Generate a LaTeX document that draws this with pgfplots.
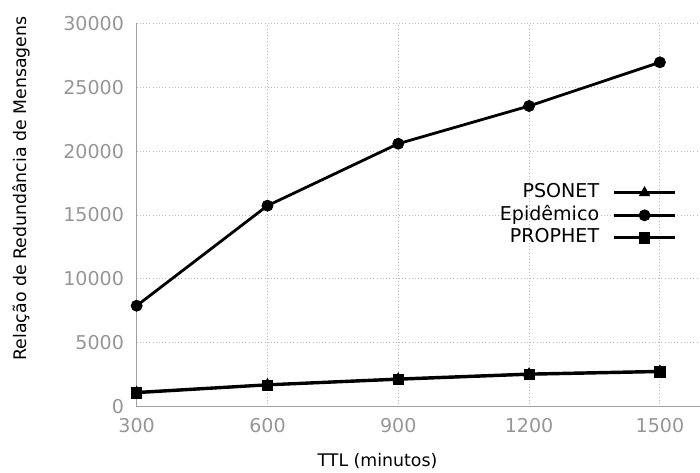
\documentclass[border=0pt]{standalone}
\usepackage{fontspec}
\setmainfont{DejaVu Sans}
\usepackage{pgfplots}
\pgfplotsset{compat=1.18}

\definecolor{ticktext}{RGB}{150,150,150}
\definecolor{axisgray}{RGB}{160,160,160}
\definecolor{gridgray}{RGB}{185,185,185}

\begin{document}
\begin{tikzpicture}
\begin{axis}[
    scale only axis,
    width=422.5pt,
    height=287.5pt,
    xmin=300, xmax=1592,
    ymin=0, ymax=30000,
    xtick={300,600,900,1200,1500},
    ytick={0,5000,10000,15000,20000,25000,30000},
    scaled ticks=false,
    /pgf/number format/set thousands separator={},
    /pgf/number format/assume math mode=true,
    axis lines=left,
    axis line style={-, draw=axisgray, line width=0.8pt},
    major tick length=0pt,
    grid=major,
    grid style={dotted, draw=gridgray, line width=0.7pt},
    tick label style={font=\fontsize{14.3}{16}\selectfont, text=ticktext},
    xticklabel style={yshift=-5pt},
    yticklabel style={xshift=-6pt},
    xlabel={TTL (minutos)},
    ylabel={Relação de Redundância de Mensagens},
    label style={font=\fontsize{13}{15}\selectfont},
    x label style={at={(axis description cs:0.4275,0)}, anchor=center, yshift=-40.7pt},
    y label style={at={(axis description cs:-0.204,0.569)}, anchor=center, rotate=0},
    legend plot pos=right,
    legend cell align=right,
    legend style={
        draw=none, fill=none, inner sep=0pt,
        at={(axis description cs:0.959,0.588)}, anchor=north east,
        font=\fontsize{14.3}{16}\selectfont,
        row sep=0pt,
        nodes={inner ysep=1.5pt, text height=10.5pt, text depth=3.4pt},
        /tikz/every odd column/.append style={column sep=8pt},
    },
    legend image code/.code={
        \draw[mark repeat=2, mark phase=2, #1]
            plot coordinates {(0pt,0pt) (23pt,0pt) (46pt,0pt)};
    },
]
\addplot[black, line width=2.1pt, mark=triangle*, mark size=4.5pt,
    mark options={solid, line width=0.5pt}]
    coordinates {(300,1130) (600,1730) (900,2180) (1200,2570) (1500,2780)};
\addlegendentry{PSONET}
\addplot[black, line width=2.1pt, mark=*, mark size=4.2pt,
    mark options={solid, line width=0.5pt}]
    coordinates {(300,7900) (600,15730) (900,20580) (1200,23530) (1500,26950)};
\addlegendentry{Epidêmico}
\addplot[black, line width=2.1pt, mark=square*, mark size=3.8pt,
    mark options={solid, line width=0.5pt}]
    coordinates {(300,1080) (600,1690) (900,2130) (1200,2520) (1500,2730)};
\addlegendentry{PROPHET}
\end{axis}
\pgfresetboundingbox
\path (current axis.south west) ++(-102.5pt,-49pt) rectangle ++(525pt,354pt);
\end{tikzpicture}
\end{document}
